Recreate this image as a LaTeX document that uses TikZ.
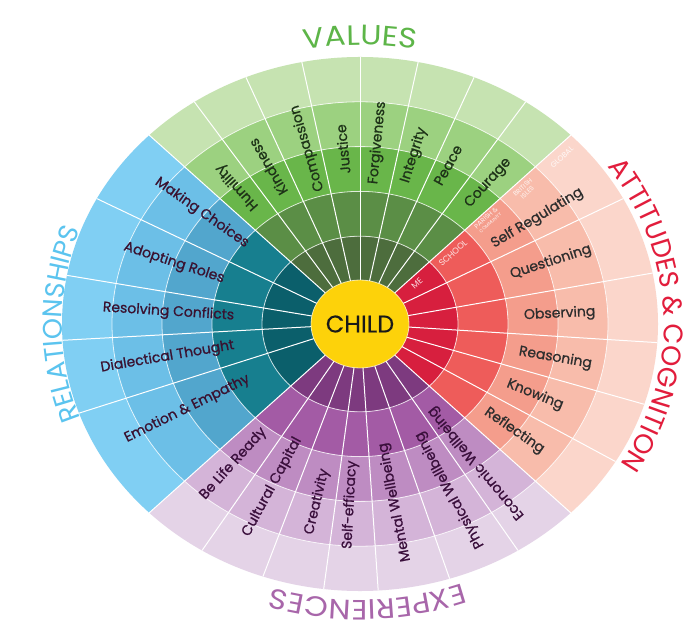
\documentclass[tikz,border=0pt]{standalone}
\usepackage{fontspec}
\setmainfont{Poppins}
\newfontfamily\poppins{Poppins}
\newfontfamily\poppinsb[FakeBold=0.9]{Poppins}
\newfontfamily\poppinsw[FakeStretch=1.12]{Poppins}
\usetikzlibrary{decorations.text,shapes.geometric}
% ring colours
\definecolor{g1}{HTML}{4D6D3D}\definecolor{g2}{HTML}{5B8E46}\definecolor{g3}{HTML}{69B64A}\definecolor{g4}{HTML}{9CD180}\definecolor{g5}{HTML}{C6E3B1}
\definecolor{r1}{HTML}{D71F3E}\definecolor{r2}{HTML}{EE5C5A}\definecolor{r3}{HTML}{F49D8C}\definecolor{r4}{HTML}{F8BCAB}\definecolor{r5}{HTML}{FBD6CB}
\definecolor{b1}{HTML}{0B5F6B}\definecolor{b2}{HTML}{177F8F}\definecolor{b3}{HTML}{52A6CD}\definecolor{b4}{HTML}{6CBFE7}\definecolor{b5}{HTML}{80CFF3}
\definecolor{p1}{HTML}{7D3A7F}\definecolor{p2}{HTML}{A35BA5}\definecolor{p3}{HTML}{BE8CC2}\definecolor{p4}{HTML}{D4B4D8}\definecolor{p5}{HTML}{E4D3E7}
\definecolor{childyellow}{HTML}{FDD20A}
\definecolor{cval}{HTML}{5DB548}\definecolor{catt}{HTML}{E21D3C}\definecolor{crel}{HTML}{5BC4EF}\definecolor{cexp}{HTML}{A866AA}
\definecolor{tval}{HTML}{1E3318}\definecolor{tatt}{HTML}{2E2E2E}\definecolor{trel}{HTML}{3A1230}\definecolor{texp}{HTML}{3A0F3C}
\newcommand\outfont{\poppins\fontsize{27}{27}\selectfont}
\newcommand\outwfont{\poppinsw\fontsize{28}{28}\selectfont}
% annular sector: colour, start, end, inner a, outer a
\newcommand\wsector[5]{%
  \pgfmathsetmacro\wbi{0.896*#4}%
  \pgfmathsetmacro\wbo{0.896*#5}%
  \fill[#1] (#2:#5pt and \wbo pt) arc[start angle=#2,end angle=#3,x radius=#5pt,y radius=\wbo pt]
    -- (#3:#4pt and \wbi pt) arc[start angle=#3,end angle=#2,x radius=#4pt,y radius=\wbi pt] -- cycle;}
% item label: name, angle, radius, flip, colour, text
\newcommand\wlab[6]{%
  \pgfmathsetmacro\wrot{atan2(0.896*sin(#2),cos(#2))+180*#4}%
  \pgfmathsetmacro\wbr{0.896*#3}%
  \node[itemtext, text=#5, rotate=\wrot] (#1) at (#2:#3pt and \wbr pt) {#6};}
\tikzset{
  spoke/.style={draw=white, line width=1pt},
  ringline/.style={draw=white, line width=0.8pt, draw opacity=0.75},
  itemtext/.style={font=\poppinsb\fontsize{14}{14}\selectfont, inner sep=0pt},
  ringtag/.style={text=white, text opacity=0.85, inner sep=0pt, align=center, rotate=42},
}
\begin{document}
\begin{tikzpicture}[x=1pt,y=1pt]
\useasboundingbox (0,0) rectangle (699,630);
\fill[white] (0,0) rectangle (699,630);
\begin{scope}[shift={(360,306)}]
  % fills
  \foreach \col/\ai/\ao in {g1/49/98,g2/98/148,g3/148/198,g4/198/248,g5/248/298}{\wsector{\col}{45}{135}{\ai}{\ao}}
  \foreach \col/\ai/\ao in {b1/49/98,b2/98/148,b3/148/198,b4/198/248,b5/248/298}{\wsector{\col}{135}{225}{\ai}{\ao}}
  \foreach \col/\ai/\ao in {p1/49/98,p2/98/148,p3/148/198,p4/198/248,p5/248/298}{\wsector{\col}{225}{315}{\ai}{\ao}}
  \foreach \col/\ai/\ao in {r1/49/98,r2/98/148,r3/148/198,r4/198/248,r5/248/298}{\wsector{\col}{-45}{45}{\ai}{\ao}}
  % ring arcs
  \foreach \a in {98,148,198,248}{\pgfmathsetmacro\wb{0.896*\a}\draw[ringline] (0,0) ellipse[x radius=\a pt, y radius=\wb pt];}
  % spokes
  \foreach \t in {45,56.25,67.5,78.75,90,101.25,112.5,123.75,135,152,169.5,183.5,199.5,225,238,251,263,273.5,287.5,302,315,-31,-17.5,-4,11,28}
    {\draw[spoke] (\t:49pt and 43.9pt) -- (\t:298pt and 267pt);}
  % centre
  \node[ellipse, minimum width=98pt, minimum height=88pt, fill=childyellow, draw=white, draw opacity=0.6, line width=0.8pt, inner sep=0pt,
        font=\poppinsb\fontsize{24}{24}\selectfont, text=black!90] (child) at (0,0) {CHILD};
  % VALUES items
  \wlab{hum}{128.8}{196}{0}{tval}{Humility}
  \wlab{kin}{117.7}{198}{0}{tval}{Kindness}
  \wlab{com}{105}{203}{0}{tval}{Compassion}
  \wlab{jus}{95}{196}{0}{tval}{Justice}
  \wlab{for}{85}{203}{0}{tval}{Forgiveness}
  \wlab{int}{74}{196}{0}{tval}{Integrity}
  \wlab{pea}{63.6}{198}{0}{tval}{Peace}
  \wlab{cou}{50.8}{203}{0}{tval}{Courage}
  % ATTITUDES items
  \wlab{sel}{33.7}{213}{0}{tatt}{Self Regulating}
  \wlab{que}{19.9}{203}{0}{tatt}{Questioning}
  \wlab{obs}{3.2}{200}{0}{tatt}{Observing}
  \wlab{rea}{-11}{199}{0}{tatt}{Reasoning}
  \wlab{kno}{-24.3}{192}{0}{tatt}{Knowing}
  \wlab{ref}{-37.7}{195}{0}{tatt}{Reflecting}
  % RELATIONSHIPS items
  \wlab{mak}{141.9}{201}{1}{trel}{Making Choices}
  \wlab{ado}{159.9}{198}{1}{trel}{Adopting Roles}
  \wlab{res}{176}{192}{1}{trel}{Resolving Conflicts}
  \wlab{dia}{190.8}{196}{1}{trel}{Dialectical Thought}
  \wlab{emo}{208.7}{197}{1}{trel}{Emotion \& Empathy}
  % EXPERIENCES items
  \wlab{bel}{230.9}{201}{1}{texp}{Be Life Ready}
  \wlab{cul}{244.2}{202}{1}{texp}{Cultural Capital}
  \wlab{cre}{257.8}{203}{1}{texp}{Creativity}
  \wlab{sef}{267.2}{202}{1}{texp}{Self-efficacy}
  \wlab{men}{280}{202}{1}{texp}{Mental Wellbeing}
  \wlab{phy}{295.9}{206}{1}{texp}{Physical Wellbeing}
  \wlab{eco}{306.8}{194}{1}{texp}{Economic Wellbeing}
  % outer titles
  \path[decorate, decoration={text along path, text={|\outwfont|VALUES}, text align=center, text color=cval}]
    (120:303pt and 279pt) arc[start angle=120, end angle=60, x radius=303pt, y radius=279pt];
  \path[decorate, decoration={text along path, text={|\outfont|ATTITUDES {\&} COGNITION}, text align=center, text color=catt}]
    (64:304pt and 272pt) arc[start angle=64, end angle=-60, x radius=304pt, y radius=272pt];
  \path[decorate, decoration={text along path, text={|\outfont|RELATIONSHIPS}, text align=center, text color=crel}]
    (240:298pt and 272pt) arc[start angle=240, end angle=120, x radius=298pt, y radius=272pt];
  \path[decorate, decoration={text along path, text={|\outwfont|EXPERIENCES}, text align=center, text color=cexp}]
    (331.5:301pt and 276pt) arc[start angle=331.5, end angle=211.5, x radius=301pt, y radius=276pt];
\end{scope}
% ring tags in the attitudes quadrant
\node[ringtag, font=\poppins\fontsize{8.5}{8.5}\selectfont] (tme) at (417,347) {ME};
\node[ringtag, font=\poppins\fontsize{8.5}{8.5}\selectfont] (tschool) at (453,377) {SCHOOL};
\node[ringtag, font=\poppins\fontsize{6.5}{6}\selectfont] (tparish) at (488,410) {PARISH \&\\{\fontsize{4.6}{5}\selectfont COMMUNITY}};
\node[ringtag, font=\poppins\fontsize{6.5}{7}\selectfont] (tbrit) at (525,440) {BRITISH\\ISLES};
\node[ringtag, font=\poppins\fontsize{7.5}{7.5}\selectfont] (tglob) at (562,473) {GLOBAL};
\end{tikzpicture}
\end{document}
